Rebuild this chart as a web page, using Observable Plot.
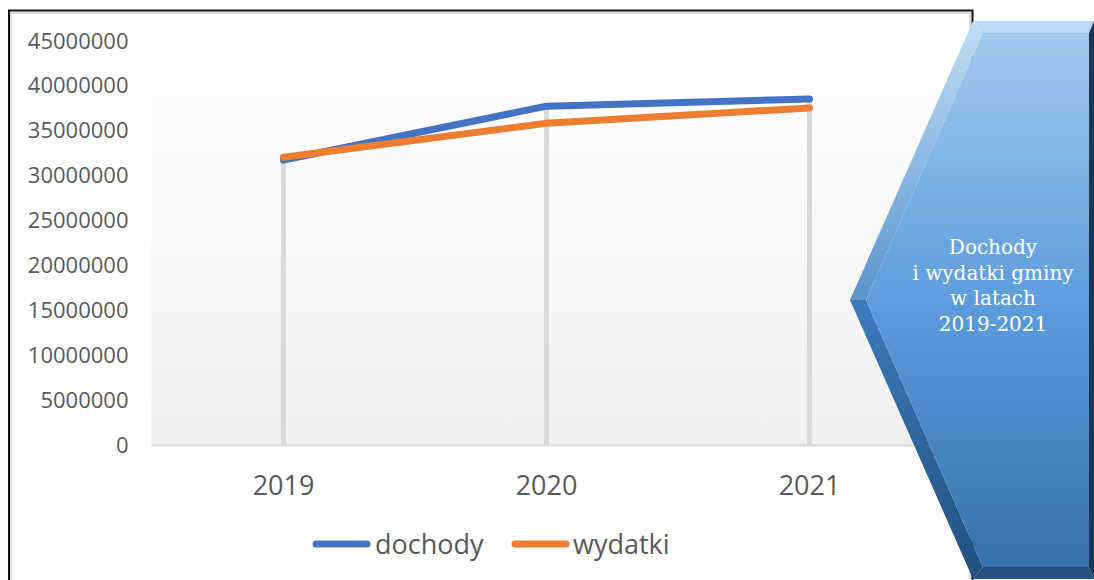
<!DOCTYPE html>
<html><head><meta charset="utf-8">
<script src="https://cdn.jsdelivr.net/npm/d3@7"></script>
<script src="https://cdn.jsdelivr.net/npm/@observablehq/plot@0.6"></script>
<style>
html,body{margin:0;padding:0;background:#fff;}
#wrap{position:relative;width:1094px;height:580px;overflow:hidden;}
#wrap svg{position:absolute;left:0;top:0;}
</style></head><body><div id="wrap"></div>
<script>
const years = ["2019", "2020", "2021"];
const dochody = [31800000, 37800000, 38600000];
const wydatki = [32100000, 35900000, 37600000];
const yTicks = [0, 5000000, 10000000, 15000000, 20000000, 25000000, 30000000, 35000000, 40000000, 45000000];
const seriesNames = ["dochody", "wydatki"];
const seriesColors = ["#4472c4", "#ed7d31"];
const titleLines = ["Dochody", "i wydatki gminy", "w latach", "2019-2021"];

const rows = years.flatMap((y, i) => [
  {year: y, series: seriesNames[0], value: dochody[i]},
  {year: y, series: seriesNames[1], value: wydatki[i]}
]);
const drops = years.map((y, i) => ({year: y, top: Math.max(dochody[i], wydatki[i])}));

const chart = Plot.plot({
  width: 1094,
  height: 580,
  marginLeft: 151,
  marginRight: 154,
  marginTop: 41,
  marginBottom: 135,
  style: {fontFamily: "'Open Sans', sans-serif", color: "#595959", background: "transparent"},
  x: {type: "point", domain: years, padding: 0.5, label: null},
  y: {domain: [0, 45000000], label: null},
  color: {domain: seriesNames, range: seriesColors},
  marks: [
    Plot.frame({fill: "url(#plotbg)", stroke: null}),
    Plot.ruleY([0], {stroke: "#d9d9d9", strokeWidth: 2}),
    Plot.ruleX(drops, {x: "year", y1: 0, y2: "top", stroke: "#d9d9d9", strokeWidth: 5}),
    Plot.line(rows, {x: "year", y: "value", z: "series", stroke: "series", strokeWidth: 7, strokeLinecap: "round", strokeLinejoin: "round"}),
    Plot.axisY({ticks: yTicks, tickSize: 0, tickPadding: 23, fontSize: 22, tickFormat: d3.format("d"), label: null}),
    Plot.axisX({tickSize: 0, tickPadding: 30, fontSize: 27, label: null})
  ]
});

const svgSel = d3.select(chart);
const defs = svgSel.insert("defs", ":first-child");
const g = defs.append("linearGradient").attr("id", "plotbg").attr("x1", 0).attr("y1", 0).attr("x2", 0).attr("y2", 1);
g.append("stop").attr("offset", "0%").attr("stop-color", "#ffffff");
g.append("stop").attr("offset", "100%").attr("stop-color", "#f0f0f0");

document.getElementById("wrap").appendChild(chart);

// overlay: frame, legend, decorative shape
const ov = d3.select("#wrap").append("svg").attr("width", 1094).attr("height", 580).style("pointer-events", "none");
const od = ov.append("defs");
function grad(id, stops) {
  const lg = od.append("linearGradient").attr("id", id).attr("gradientUnits", "userSpaceOnUse")
    .attr("x1", 0).attr("y1", 21).attr("x2", 0).attr("y2", 579);
  stops.forEach(([o, c]) => lg.append("stop").attr("offset", o).attr("stop-color", c));
}
grad("face", [["0%", "#a6cbef"], ["50%", "#5d9ddd"], ["100%", "#3470ac"]]);
grad("ul", [["0%", "#c2def6"], ["50%", "#5994cf"], ["100%", "#5994cf"]]);
grad("ll", [["0%", "#3d7cbd"], ["50%", "#3d7cbd"], ["100%", "#234f80"]]);

// frame
ov.append("rect").attr("x", 11).attr("y", 13).attr("width", 959).attr("height", 600)
  .attr("fill", "none").attr("stroke", "#d0d0d0").attr("stroke-width", 1.5);
ov.append("rect").attr("x", 9).attr("y", 10.5).attr("width", 963.5).attr("height", 620)
  .attr("fill", "none").attr("stroke", "#111").attr("stroke-width", 2);

// legend
const legX = [[316, 367, 375], [515, 566, 573]];
seriesNames.forEach((s, i) => {
  ov.append("line").attr("x1", legX[i][0]).attr("x2", legX[i][1]).attr("y1", 544).attr("y2", 544)
    .attr("stroke", seriesColors[i]).attr("stroke-width", 7).attr("stroke-linecap", "round");
  ov.append("text").attr("x", legX[i][2]).attr("y", 554).text(s)
    .attr("font-family", "'Open Sans', sans-serif").attr("font-size", 27).attr("fill", "#595959");
});

// decorative chevron
const T1 = [973, 21], T2 = [1094, 21], B2 = [1094, 579], B1 = [973, 579], TIP = [850, 300];
const t1 = [983, 33], t2 = [1089, 33], b2 = [1089, 567], b1 = [983, 567], tip = [866, 300];
const poly = (pts, fill) => ov.append("polygon").attr("points", pts.map(p => p.join(",")).join(" ")).attr("fill", fill);
poly([T1, T2, [1089, 33], t1], "#b9d9f5");
poly([T1, t1, tip, TIP], "url(#ul)");
poly([TIP, tip, b1, B1], "url(#ll)");
poly([B1, b1, b2, B2], "#244f7e");
poly([[1089, 33], T2, B2, b2], "#1c3656");
poly([t1, t2, b2, b1, tip], "url(#face)");

titleLines.forEach((t, i) => {
  ov.append("text").attr("x", 993).attr("y", 254 + i * 25.5).attr("text-anchor", "middle")
    .attr("font-family", "'DejaVu Serif', serif").attr("font-size", 20).attr("fill", "#ffffff").text(t);
});
</script></body></html>
